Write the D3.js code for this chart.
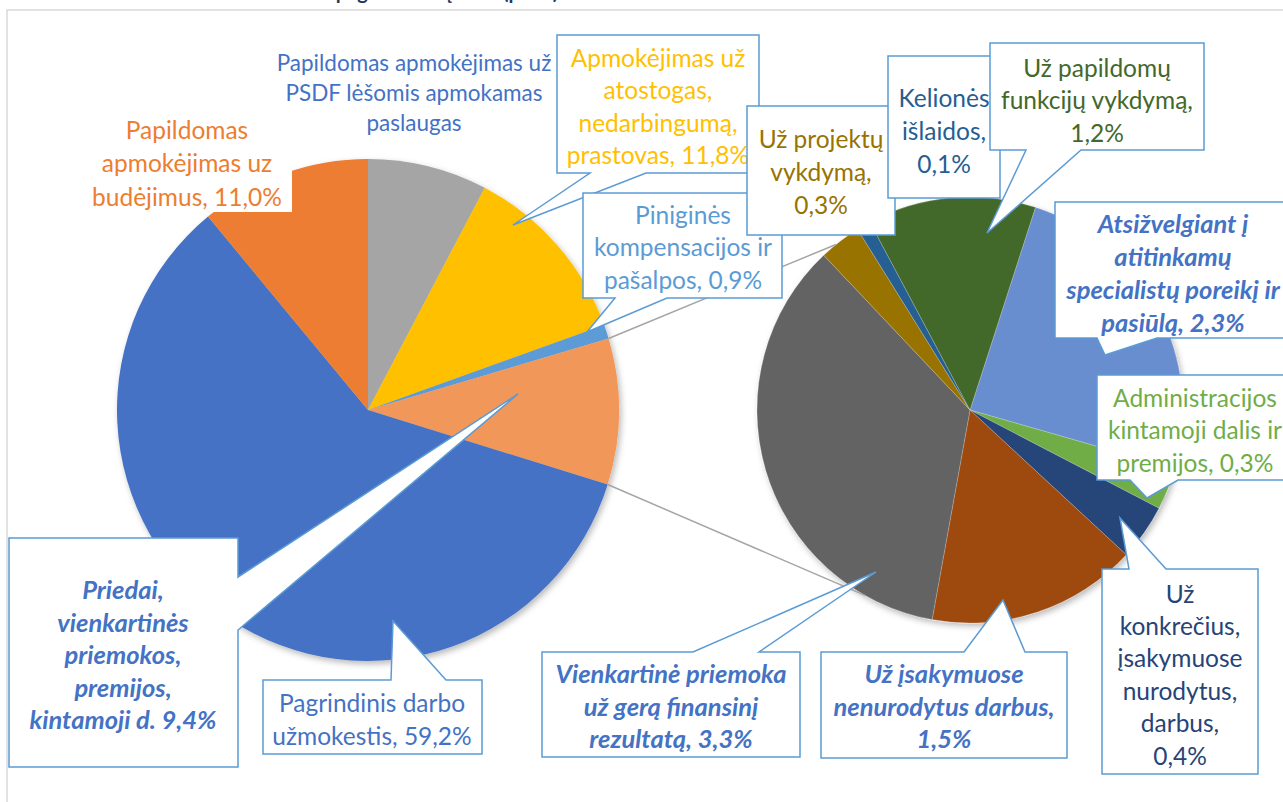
<!DOCTYPE html>
<html>
<head>
<meta charset="utf-8">
<script src="https://cdn.jsdelivr.net/npm/d3@7"></script>
<style>
  body { margin: 0; background: #fff; }
  svg { display: block; }
  text { font-family: Lato, "Open Sans", sans-serif; }
</style>
</head>
<body>
<svg id="chart" width="1283" height="802"></svg>
<script>
// primary pie, clockwise from 12 o'clock
const mainNames = ["PSDF paslaugos", "Atostogos, nedarbingumas, prastovos", "Piniginės kompensacijos ir pašalpos",
  "Priedai, vienkartinės priemokos, premijos, kintamoji d.", "Pagrindinis darbo užmokestis", "Budėjimai"];
const mainValues = [7.7, 11.8, 0.9, 9.4, 59.2, 11.0];
const mainColors = ["#A5A5A5", "#FFC000", "#5B9BD5", "#F1975A", "#4472C4", "#ED7D31"];

// secondary pie (split of "Priedai ..." 9,4%)
const subNames = ["Atsižvelgiant į specialistų poreikį", "Administracijos kintamoji dalis", "Už konkrečius darbus",
  "Už įsakymuose nenurodytus darbus", "Vienkartinė priemoka", "Už projektų vykdymą", "Kelionės išlaidos",
  "Už papildomų funkcijų vykdymą"];
const subValues = [2.3, 0.3, 0.4, 1.5, 3.3, 0.3, 0.1, 1.2];
const subColors = ["#698ED0", "#70AD47", "#264478", "#9E480E", "#636363", "#997300", "#255E91", "#43682B"];

// label texts, one entry per callout
const labelTexts = [
  ["Papildomas apmokėjimas už", "PSDF lėšomis apmokamas", "paslaugas"],
  ["Papildomas", "apmokėjimas uz", "budėjimus, 11,0%"],
  ["Apmokėjimas už", "atostogas,", "nedarbingumą,", "prastovas, 11,8%"],
  ["Piniginės", "kompensacijos ir", "pašalpos, 0,9%"],
  ["Už projektų", "vykdymą,", "0,3%"],
  ["Kelionės", "išlaidos,", "0,1%"],
  ["Už papildomų", "funkcijų vykdymą,", "1,2%"],
  ["Atsižvelgiant į", "atitinkamų", "specialistų poreikį ir", "pasiūlą, 2,3%"],
  ["Administracijos", "kintamoji dalis ir", "premijos, 0,3%"],
  ["Už", "konkrečius,", "įsakymuose", "nurodytus,", "darbus,", "0,4%"],
  ["Už įsakymuose", "nenurodytus darbus,", "1,5%"],
  ["Vienkartinė priemoka", "už gerą finansinį", "rezultatą, 3,3%"],
  ["Pagrindinis darbo", "užmokestis, 59,2%"],
  ["Priedai,", "vienkartinės", "priemokos,", "premijos,", "kintamoji d. 9,4%"]
];

const width = 1283, height = 802;
const svg = d3.select("#chart");

// callout layout (box, pointer side, pointer base, tip, text)
const callouts = [
  { box: null, cx: 414, y: 62, dy: 30, color: "#4472C4", size: 22.5 },
  { box: [82, 108, 292, 212], plain: true, cx: 187, y: 129, dy: 33.5, color: "#ED7D31" },
  { box: [557, 35, 759, 173], side: "bottom", base: [590, 646], tip: [513, 225], cx: 658, y: 57, dy: 32.5, color: "#FFC000" },
  { box: [583, 193, 782, 298], side: "bottom", base: [615, 667], tip: [587, 332], cx: 683, y: 214, dy: 32.5, color: "#5B9BD5" },
  { box: [747, 106, 895, 235], cx: 821, y: 138, dy: 33, color: "#997300" },
  { box: [888, 56, 1000, 198], cx: 944, y: 97, dy: 33, color: "#255E91" },
  { box: [990, 43, 1204, 150], side: "bottom", base: [1026, 1081], tip: [987, 233], cx: 1097, y: 67, dy: 32.5, color: "#43682B" },
  { box: [1055, 202, 1291, 338], side: "bottom", base: [1097, 1157], tip: [1105, 355], cx: 1173, y: 223, dy: 33, color: "#4472C4", bi: true },
  { box: [1097, 375, 1293, 480], side: "bottom", base: [1130, 1178], tip: [1147, 498], cx: 1195, y: 397, dy: 32.5, color: "#70AD47" },
  { box: [1102, 569, 1258, 774], side: "top", base: [1129, 1166], tip: [1120, 518], cx: 1180, y: 593, dy: 32.4, color: "#264478" },
  { box: [821, 652, 1067, 758], side: "top", base: [964, 1025], tip: [1003, 600], cx: 944, y: 673, dy: 32.5, color: "#4472C4", bi: true },
  { box: [542, 652, 800, 757], side: "top", base: [693, 759], tip: [876, 572], cx: 671, y: 673, dy: 32.5, color: "#4472C4", bi: true },
  { box: [263, 680, 482, 754], side: "top", base: [391, 446], tip: [393, 621], cx: 372, y: 702, dy: 33, color: "#4472C4" },
  { box: [9, 538, 238, 767], side: "right", base: [577, 630], tip: [518, 394], cx: 123, y: 589, dy: 32.5, color: "#4472C4", bi: true }
];

const defs = svg.append("defs");
const shadow = defs.append("filter").attr("id", "shadow")
  .attr("x", "-10%").attr("y", "-10%").attr("width", "120%").attr("height", "120%");
shadow.append("feDropShadow").attr("dx", 2).attr("dy", 3).attr("stdDeviation", 3)
  .attr("flood-color", "#000").attr("flood-opacity", 0.28);

svg.append("rect").attr("width", width).attr("height", height).attr("fill", "#fff");

// title sits above the visible area, only its lowest strokes show
svg.append("text")
  .attr("x", 22).attr("y", -1)
  .attr("fill", "#1F3864")
  .attr("font-size", 20).attr("font-weight", 700)
  .text("Darbo užmokesčio fondo struktūra pagal išmokų rūšis (proc.)");

svg.append("rect")
  .attr("x", 7).attr("y", 10)
  .attr("width", width + 20).attr("height", height + 20)
  .attr("fill", "none").attr("stroke", "#D9D9D9").attr("stroke-width", 1.5);

// pies
const mainPie = { cx: 368, cy: 410, r: 251 };
const subPie = { cx: 970, cy: 410, r: 213 };
const deg = Math.PI / 180;

const mainArcs = d3.pie().sort(null).value(d => d)
  .startAngle(0).endAngle(2 * Math.PI)(mainValues);
const subStart = 17.9 * deg;
const subArcs = d3.pie().sort(null).value(d => d)
  .startAngle(subStart).endAngle(subStart + 2 * Math.PI)(subValues);

const gMain = svg.append("g")
  .attr("transform", `translate(${mainPie.cx},${mainPie.cy})`)
  .attr("filter", "url(#shadow)");
gMain.selectAll("path")
  .data(mainArcs)
  .join("path")
  .attr("d", d3.arc().innerRadius(0).outerRadius(mainPie.r))
  .attr("fill", (d, i) => mainColors[i]);

const gSub = svg.append("g")
  .attr("transform", `translate(${subPie.cx},${subPie.cy})`)
  .attr("filter", "url(#shadow)");
gSub.selectAll("path")
  .data(subArcs)
  .join("path")
  .attr("d", d3.arc().innerRadius(0).outerRadius(subPie.r))
  .attr("fill", (d, i) => subColors[i])
  .attr("stroke", "#fff").attr("stroke-opacity", 0.35).attr("stroke-width", 0.6);

// series lines between the split slice and the secondary pie
const split = mainArcs[3];
const onCircle = (p, a) => [p.cx + p.r * Math.sin(a), p.cy - p.r * Math.cos(a)];
const links = [
  [onCircle(mainPie, split.startAngle), onCircle(subPie, 321 * deg)],
  [onCircle(mainPie, split.endAngle), onCircle(subPie, 209.5 * deg)]
];
svg.append("g")
  .selectAll("line")
  .data(links)
  .join("line")
  .attr("x1", d => d[0][0]).attr("y1", d => d[0][1])
  .attr("x2", d => d[1][0]).attr("y2", d => d[1][1])
  .attr("stroke", "#A5A5A5").attr("stroke-width", 1.5);

// callout shapes
function calloutPath(c) {
  const [x0, y0, x1, y1] = c.box;
  const [a, b] = c.base || [];
  const t = c.tip;
  if (c.side === "bottom")
    return `M${x0},${y0}H${x1}V${y1}H${b}L${t[0]},${t[1]}L${a},${y1}H${x0}Z`;
  if (c.side === "top")
    return `M${x0},${y0}H${a}L${t[0]},${t[1]}L${b},${y0}H${x1}V${y1}H${x0}Z`;
  if (c.side === "right")
    return `M${x0},${y0}H${x1}V${a}L${t[0]},${t[1]}L${x1},${b}V${y1}H${x0}Z`;
  return `M${x0},${y0}H${x1}V${y1}H${x0}Z`;
}

callouts.forEach((c, i) => {
  const g = svg.append("g");
  if (c.box) {
    g.append("path")
      .attr("d", calloutPath(c))
      .attr("fill", "#fff")
      .attr("stroke", c.plain ? "none" : "#5B9BD5")
      .attr("stroke-width", 1.5)
      .attr("stroke-linejoin", "miter");
  }
  g.selectAll("text")
    .data(labelTexts[i])
    .join("text")
    .attr("x", c.cx)
    .attr("y", (d, j) => c.y + j * c.dy)
    .attr("text-anchor", "middle")
    .attr("dominant-baseline", "central")
    .attr("fill", c.color)
    .attr("font-size", c.size || (c.bi ? 25.5 : 24.5))
    .attr("font-weight", c.bi ? 700 : 400)
    .attr("font-style", c.bi ? "italic" : "normal")
    .text(d => d);
});
</script>
</body>
</html>
